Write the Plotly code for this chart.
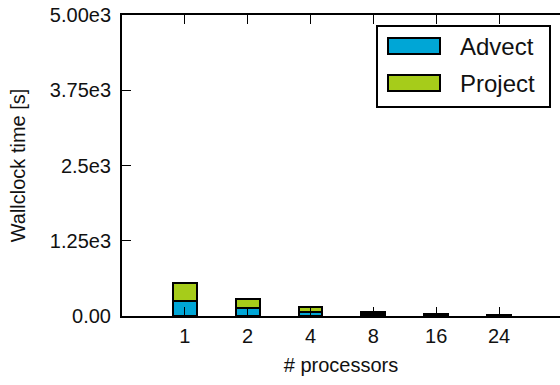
import plotly.graph_objects as go

processors = ["1", "2", "4", "8", "16", "24"]
advect = [250, 138, 70, 35, 20, 12]
project = [298, 139, 72, 35, 20, 12]
series_names = ["Advect", "Project"]
series_colors = ["#00a6d6", "#a6cc1a"]
y_tickvals = [0, 1250, 2500, 3750, 5000]
y_ticktext = ["0.00", "1.25e3", "2.5e3", "3.75e3", "5.00e3"]

FONT = "Liberation Sans, Arial, Helvetica, sans-serif"

fig = go.Figure()
for name, vals, col in zip(series_names, [advect, project], series_colors):
    fig.add_trace(go.Bar(
        x=processors, y=vals, name=name, width=0.38,
        marker=dict(color=col, line=dict(color="black", width=2)),
        showlegend=False,
    ))

fig.update_layout(
    width=560, height=385,
    margin=dict(l=122, r=0, t=15, b=69),
    paper_bgcolor="white", plot_bgcolor="white",
    barmode="stack",
    font=dict(family=FONT, size=20, color="#111"),
    xaxis=dict(
        type="category", range=[-1, 5.97],
        showline=True, linecolor="black", linewidth=2, mirror="ticks",
        ticks="inside", ticklen=9, tickwidth=1, tickcolor="black",
        showgrid=False, zeroline=False, ticklabelstandoff=1,
        title=dict(text="# processors", font=dict(size=20), standoff=12),
    ),
    yaxis=dict(
        range=[0, 5000], tickvals=y_tickvals, ticktext=y_ticktext,
        showline=True, linecolor="black", linewidth=2,
        ticks="inside", ticklen=9, tickwidth=1, tickcolor="black",
        showgrid=False, zeroline=False, ticklabelstandoff=5,
        title=dict(text="Wallclock time [s]", font=dict(size=20), standoff=19),
    ),
    yaxis2=dict(
        overlaying="y", side="right", range=[0, 5000], tickvals=y_tickvals,
        showticklabels=False, showline=False, showgrid=False, zeroline=False,
        ticks="inside", ticklen=9, tickwidth=1, tickcolor="black",
    ),
)

# legend drawn as a box with swatches and labels
fig.add_shape(type="rect", xref="paper", yref="paper",
              x0=(377 - 122) / 438, x1=(550 - 122) / 438,
              y0=(316 - 107) / 301, y1=(316 - 26) / 301,
              line=dict(color="black", width=2), fillcolor="white", layer="above")
for i, (name, col) in enumerate(zip(series_names, series_colors)):
    yc = 46 + i * 37
    fig.add_shape(type="rect", xref="paper", yref="paper",
                  x0=(388 - 122) / 438, x1=(440 - 122) / 438,
                  y0=(316 - yc - 8) / 301, y1=(316 - yc + 8) / 301,
                  line=dict(color="black", width=2), fillcolor=col, layer="above")
    fig.add_annotation(xref="paper", yref="paper", x=(458 - 122) / 438,
                       y=(316 - yc) / 301, text=name, showarrow=False,
                       xanchor="left", yanchor="middle",
                       font=dict(size=24, family=FONT, color="#111"))

fig.write_html("out.html")
